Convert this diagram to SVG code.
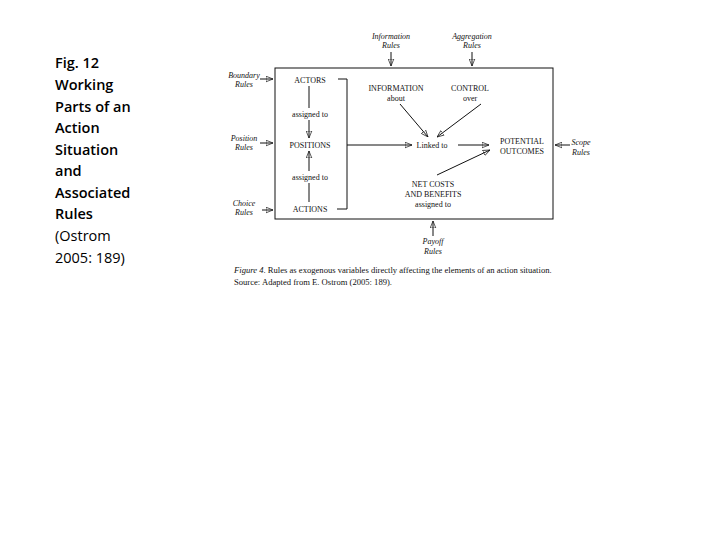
<svg xmlns="http://www.w3.org/2000/svg" width="720" height="540" viewBox="0 0 720 540">
<style>
.t{font-family:"Liberation Serif",serif;font-size:8px;fill:#111}
.cap{font-size:8.6px}
.i{font-style:italic}
.c{text-anchor:middle}
.l{font-family:"Open Sans","Liberation Sans",sans-serif;font-size:14.5px;fill:#000}
.b{font-weight:600}
line,path{stroke:#111;stroke-width:1;fill:none}
</style>
<defs><marker id="a" viewBox="0 0 10 10" refX="10" refY="5" markerWidth="7" markerHeight="7" orient="auto"><path d="M0,1 L10,5 L0,9 z" fill="#111" stroke="none"/></marker></defs>
<rect width="720" height="540" fill="#fff"/>
<g id="title">
<text class="l b" x="55" y="68">Fig. 12</text>
<text class="l b" x="55" y="90">Working</text>
<text class="l b" x="55" y="112">Parts of an</text>
<text class="l b" x="55" y="133">Action</text>
<text class="l b" x="55" y="155">Situation</text>
<text class="l b" x="55" y="176">and</text>
<text class="l b" x="55" y="198">Associated</text>
<text class="l b" x="55" y="219">Rules</text>
<text class="l" x="55" y="241">(Ostrom</text>
<text class="l" x="55" y="263">2005: 189)</text>
</g>
<g id="frame"><rect x="275" y="68" width="278" height="151" fill="none" stroke="#111"/></g>
<g id="n-info-rules"><text class="t i c" x="391" y="39">Information</text><text class="t i c" x="391" y="48">Rules</text></g>
<g id="n-agg-rules"><text class="t i c" x="472" y="39">Aggregation</text><text class="t i c" x="472" y="48">Rules</text></g>
<g id="n-boundary"><text class="t i c" x="244" y="78">Boundary</text><text class="t i c" x="244" y="87">Rules</text></g>
<g id="n-position"><text class="t i c" x="244" y="141">Position</text><text class="t i c" x="244" y="150">Rules</text></g>
<g id="n-choice"><text class="t i c" x="244" y="206">Choice</text><text class="t i c" x="244" y="215">Rules</text></g>
<g id="n-scope"><text class="t i c" x="581" y="145">Scope</text><text class="t i c" x="581" y="155">Rules</text></g>
<g id="n-payoff"><text class="t i c" x="433" y="244">Payoff</text><text class="t i c" x="433" y="254">Rules</text></g>
<g id="n-actors"><text class="t c" x="310" y="83">ACTORS</text></g>
<g id="n-positions"><text class="t c" x="310" y="148">POSITIONS</text></g>
<g id="n-actions"><text class="t c" x="310" y="212">ACTIONS</text></g>
<g id="n-information"><text class="t c" x="396" y="91">INFORMATION</text><text class="t c" x="396" y="101">about</text></g>
<g id="n-control"><text class="t c" x="470" y="91">CONTROL</text><text class="t c" x="470" y="101">over</text></g>
<g id="n-linked"><text class="t c" x="432" y="148">Linked to</text></g>
<g id="n-outcomes"><text class="t c" x="522" y="144">POTENTIAL</text><text class="t c" x="522" y="154">OUTCOMES</text></g>
<g id="n-netcosts"><text class="t c" x="433" y="187">NET COSTS</text><text class="t c" x="433" y="197">AND BENEFITS</text><text class="t c" x="433" y="207">assigned to</text></g>
<g id="connectors">
<line x1="391" y1="52" x2="391" y2="66" marker-end="url(#a)"/>
<line x1="472" y1="52" x2="472" y2="66" marker-end="url(#a)"/>
<line x1="260" y1="79" x2="273" y2="79" marker-end="url(#a)"/>
<line x1="260" y1="143" x2="273" y2="143" marker-end="url(#a)"/>
<line x1="262" y1="210" x2="273" y2="210" marker-end="url(#a)"/>
<line x1="570" y1="145" x2="555" y2="145" marker-end="url(#a)"/>
<line x1="433" y1="236" x2="433" y2="221" marker-end="url(#a)"/>
<line x1="309" y1="86" x2="309" y2="108"/>
<text class="t c" x="310" y="117">assigned to</text>
<line x1="309" y1="120" x2="309" y2="138" marker-end="url(#a)"/>
<line x1="309" y1="202" x2="309" y2="183"/>
<text class="t c" x="310" y="180">assigned to</text>
<line x1="309" y1="171" x2="309" y2="151" marker-end="url(#a)"/>
<path d="M338,79 H347 V209 H337"/>
<line x1="347" y1="145" x2="412" y2="145" marker-end="url(#a)"/>
<line x1="400" y1="104" x2="428" y2="137" marker-end="url(#a)"/>
<line x1="481" y1="104" x2="437" y2="137" marker-end="url(#a)"/>
<line x1="458" y1="145" x2="489" y2="145" marker-end="url(#a)"/>
<line x1="437" y1="175" x2="490" y2="150" marker-end="url(#a)"/>
</g>
<g id="caption">
<text class="t cap" x="234" y="273"><tspan class="i">Figure 4</tspan>. Rules as exogenous variables directly affecting the elements of an action situation.</text>
<text class="t cap" x="234" y="285">Source: Adapted from E. Ostrom (2005: 189).</text>
</g>
</svg>
